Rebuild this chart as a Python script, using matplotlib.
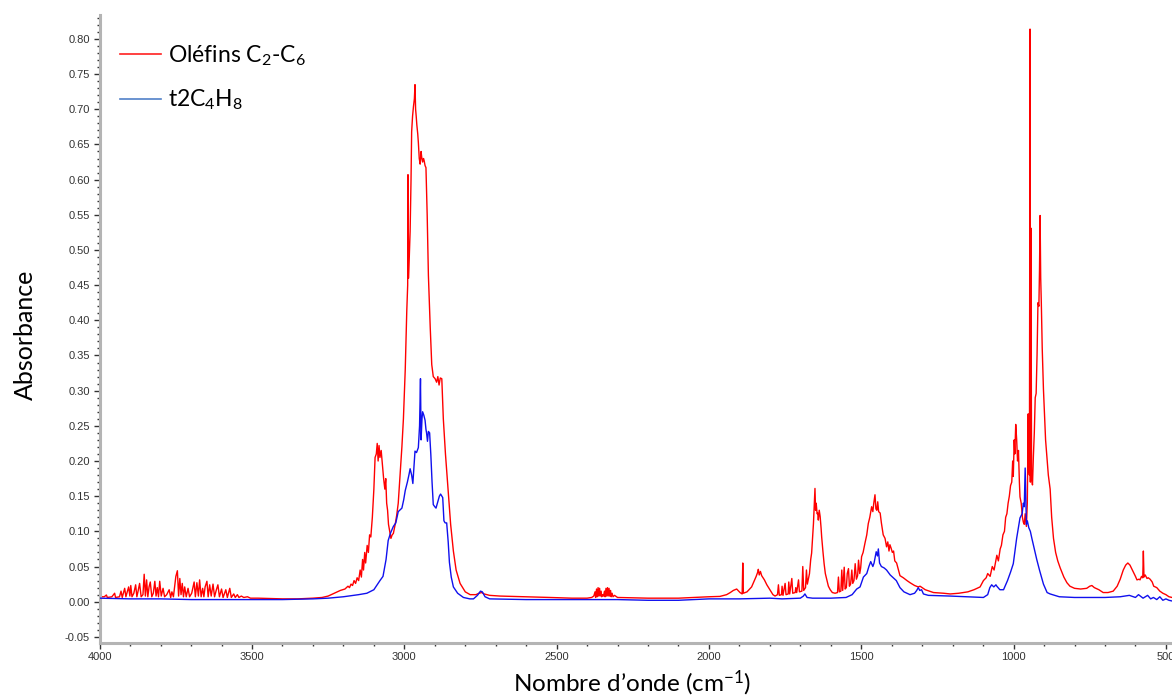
import matplotlib
matplotlib.use("Agg")
import matplotlib.pyplot as plt
from matplotlib.lines import Line2D
from matplotlib.ticker import MultipleLocator, FixedLocator
from matplotlib import font_manager

installed = {f.name for f in font_manager.fontManager.ttflist}
label_font = "Lato" if "Lato" in installed else "DejaVu Sans"
tick_font = "Liberation Sans Narrow" if "Liberation Sans Narrow" in installed else "Liberation Sans"

plt.rcParams["mathtext.fontset"] = "custom"
plt.rcParams["mathtext.rm"] = label_font
plt.rcParams["mathtext.it"] = label_font

# ---------------- data ----------------
series_names = [r"Oléfins C$_\mathregular{2}$-C$_\mathregular{6}$", r"t2C$_\mathregular{4}$H$_\mathregular{8}$"]

olefins_wn = [
    4000, 3985, 3978, 3975, 3960, 3951, 3948, 3935, 3930, 3926, 3918, 3914, 3905, 3901, 3898, 3894,
    3888, 3882, 3878, 3874, 3869, 3864, 3858, 3854, 3850, 3846, 3842, 3838, 3834, 3829, 3824, 3819,
    3815, 3811, 3807, 3803, 3798, 3792, 3787, 3780, 3772, 3767, 3763, 3758, 3750, 3745, 3741, 3737,
    3733, 3729, 3725, 3721, 3716, 3710, 3705, 3698, 3690, 3686, 3681, 3676, 3672, 3667, 3662, 3658,
    3654, 3648, 3644, 3639, 3634, 3628, 3623, 3617, 3612, 3607, 3600, 3595, 3586, 3581, 3573, 3568,
    3560, 3555, 3548, 3543, 3535, 3527, 3515, 3505, 3480, 3400, 3350, 3300, 3270, 3250, 3230, 3210,
    3195, 3185, 3180, 3175, 3170, 3165, 3160, 3155, 3150, 3145, 3141, 3137, 3134, 3130, 3127, 3122,
    3118, 3114, 3110, 3105, 3100, 3096, 3092, 3089, 3086, 3083, 3080, 3076, 3072, 3068, 3064, 3061,
    3058, 3055, 3052, 3048, 3044, 3040, 3036, 3030, 3025, 3020, 3014, 3008, 3003, 2997, 2992, 2989,
    2988, 2986, 2983, 2981, 2978, 2976, 2973, 2970, 2967, 2965, 2963, 2961, 2959, 2956, 2954, 2951,
    2948, 2945, 2943, 2940, 2937, 2935, 2932, 2929, 2925, 2921, 2915, 2910, 2905, 2899, 2894, 2890,
    2886, 2882, 2877, 2872, 2865, 2856, 2848, 2839, 2830, 2817, 2800, 2784, 2765, 2755, 2746, 2738,
    2720, 2686, 2600, 2522, 2450, 2400, 2385, 2378, 2374, 2372, 2369, 2367, 2364, 2362, 2359, 2357,
    2354, 2352, 2349, 2346, 2343, 2341, 2338, 2336, 2333, 2331, 2328, 2326, 2323, 2321, 2318, 2315,
    2310, 2300, 2200, 2100, 2050, 2000, 1964, 1942, 1930, 1920, 1909, 1898, 1891, 1889, 1887, 1875,
    1860, 1845, 1840, 1838, 1835, 1831, 1827, 1818, 1810, 1800, 1790, 1783, 1775, 1772, 1769, 1762,
    1760, 1757, 1750, 1747, 1740, 1738, 1735, 1728, 1725, 1717, 1715, 1712, 1706, 1703, 1695, 1692,
    1689, 1683, 1680, 1677, 1670, 1666, 1663, 1660, 1657, 1654, 1652, 1650, 1648, 1645, 1643, 1641,
    1638, 1635, 1632, 1630, 1626, 1622, 1618, 1613, 1608, 1602, 1595, 1586, 1578, 1575, 1572, 1567,
    1564, 1561, 1556, 1553, 1549, 1546, 1542, 1539, 1535, 1531, 1528, 1524, 1520, 1516, 1512, 1509,
    1505, 1502, 1499, 1494, 1488, 1482, 1477, 1472, 1466, 1462, 1459, 1455, 1452, 1449, 1446, 1443,
    1438, 1434, 1428, 1422, 1417, 1413, 1409, 1406, 1402, 1398, 1394, 1390, 1384, 1378, 1373, 1362,
    1350, 1340, 1325, 1313, 1307, 1300, 1290, 1263, 1230, 1208, 1180, 1150, 1130, 1110, 1099, 1090,
    1085, 1077, 1070, 1064, 1055, 1050, 1044, 1040, 1035, 1030, 1026, 1022, 1018, 1014, 1010, 1006,
    1003, 1001, 998, 996, 993, 990, 987, 984, 981, 979, 975, 971, 968, 965, 962, 958,
    955, 952, 951, 948, 946, 945, 943, 941, 938, 935, 932, 929, 926, 923, 920, 917,
    915, 913, 911, 909, 906, 902, 898, 895, 891, 886, 880, 875, 869, 862, 855, 847,
    835, 825, 815, 800, 780, 760, 750, 743, 735, 720, 706, 690, 673, 660, 650, 640,
    632, 625, 618, 610, 600, 595, 588, 585, 580, 576, 574, 572, 568, 562, 558, 552,
    545, 540, 530, 520, 510, 500, 490, 480,
]
olefins_abs = [
    0.007, 0.007, 0.0095, 0.006, 0.007, 0.012, 0.006, 0.007, 0.015, 0.006, 0.019, 0.007, 0.021, 0.008, 0.023, 0.007,
    0.012, 0.024, 0.007, 0.015, 0.026, 0.007, 0.010, 0.039, 0.008, 0.031, 0.007, 0.021, 0.028, 0.007, 0.012, 0.029,
    0.008, 0.020, 0.007, 0.029, 0.008, 0.019, 0.007, 0.010, 0.017, 0.006, 0.014, 0.007, 0.036, 0.044, 0.008, 0.033,
    0.010, 0.026, 0.007, 0.021, 0.007, 0.019, 0.007, 0.012, 0.028, 0.007, 0.027, 0.008, 0.031, 0.007, 0.019, 0.007,
    0.021, 0.029, 0.007, 0.024, 0.008, 0.025, 0.007, 0.017, 0.024, 0.007, 0.018, 0.006, 0.017, 0.006, 0.019, 0.006,
    0.011, 0.006, 0.010, 0.006, 0.008, 0.006, 0.007, 0.005, 0.005, 0.004, 0.004, 0.005, 0.006, 0.008, 0.012, 0.016,
    0.018, 0.022, 0.020, 0.025, 0.023, 0.030, 0.026, 0.034, 0.030, 0.045, 0.035, 0.060, 0.045, 0.070, 0.055, 0.080,
    0.070, 0.095, 0.092, 0.120, 0.160, 0.205, 0.210, 0.225, 0.200, 0.222, 0.205, 0.215, 0.195, 0.175, 0.160, 0.175,
    0.140, 0.130, 0.110, 0.100, 0.090, 0.095, 0.097, 0.110, 0.123, 0.140, 0.179, 0.220, 0.260, 0.330, 0.413, 0.450,
    0.607, 0.460, 0.500, 0.526, 0.600, 0.668, 0.690, 0.704, 0.715, 0.735, 0.700, 0.690, 0.678, 0.665, 0.653, 0.630,
    0.622, 0.640, 0.632, 0.625, 0.630, 0.627, 0.620, 0.617, 0.550, 0.464, 0.390, 0.337, 0.320, 0.317, 0.312, 0.320,
    0.308, 0.318, 0.317, 0.260, 0.210, 0.158, 0.110, 0.072, 0.045, 0.026, 0.014, 0.010, 0.010, 0.012, 0.013, 0.011,
    0.009, 0.008, 0.007, 0.006, 0.005, 0.005, 0.006, 0.008, 0.014, 0.006, 0.018, 0.007, 0.020, 0.008, 0.019, 0.008,
    0.015, 0.007, 0.010, 0.008, 0.015, 0.007, 0.019, 0.008, 0.020, 0.008, 0.019, 0.008, 0.016, 0.007, 0.012, 0.007,
    0.009, 0.006, 0.005, 0.005, 0.006, 0.007, 0.0075, 0.010, 0.013, 0.016, 0.018, 0.013, 0.011, 0.055, 0.012, 0.014,
    0.021, 0.036, 0.042, 0.046, 0.038, 0.043, 0.037, 0.031, 0.024, 0.017, 0.010, 0.008, 0.010, 0.024, 0.009, 0.010,
    0.022, 0.009, 0.026, 0.010, 0.011, 0.028, 0.011, 0.033, 0.012, 0.013, 0.020, 0.013, 0.031, 0.014, 0.015, 0.050,
    0.016, 0.020, 0.045, 0.025, 0.040, 0.060, 0.069, 0.090, 0.111, 0.140, 0.161, 0.130, 0.140, 0.125, 0.126, 0.116,
    0.130, 0.121, 0.105, 0.092, 0.072, 0.054, 0.040, 0.031, 0.022, 0.017, 0.013, 0.012, 0.013, 0.035, 0.014, 0.015,
    0.045, 0.016, 0.049, 0.018, 0.020, 0.040, 0.047, 0.022, 0.025, 0.045, 0.026, 0.030, 0.054, 0.032, 0.037, 0.059,
    0.040, 0.048, 0.064, 0.070, 0.083, 0.095, 0.111, 0.120, 0.135, 0.128, 0.140, 0.152, 0.132, 0.130, 0.142, 0.128,
    0.126, 0.112, 0.095, 0.090, 0.078, 0.085, 0.072, 0.081, 0.076, 0.070, 0.072, 0.058, 0.055, 0.045, 0.037, 0.034,
    0.030, 0.027, 0.023, 0.021, 0.022, 0.020, 0.017, 0.013, 0.012, 0.011, 0.012, 0.014, 0.017, 0.021, 0.030, 0.034,
    0.040, 0.036, 0.050, 0.045, 0.066, 0.058, 0.075, 0.080, 0.095, 0.100, 0.120, 0.125, 0.140, 0.150, 0.165, 0.170,
    0.200, 0.178, 0.230, 0.210, 0.252, 0.231, 0.200, 0.215, 0.170, 0.149, 0.140, 0.120, 0.113, 0.110, 0.125, 0.107,
    0.140, 0.267, 0.200, 0.180, 0.814, 0.170, 0.531, 0.175, 0.166, 0.207, 0.240, 0.290, 0.296, 0.350, 0.425, 0.420,
    0.470, 0.549, 0.460, 0.425, 0.360, 0.302, 0.260, 0.230, 0.207, 0.180, 0.160, 0.120, 0.090, 0.070, 0.058, 0.048,
    0.035, 0.027, 0.022, 0.019, 0.018, 0.019, 0.022, 0.023, 0.020, 0.017, 0.013, 0.013, 0.015, 0.022, 0.032, 0.045,
    0.052, 0.055, 0.052, 0.045, 0.036, 0.031, 0.032, 0.031, 0.036, 0.034, 0.072, 0.035, 0.038, 0.033, 0.034, 0.032,
    0.028, 0.022, 0.020, 0.015, 0.012, 0.010, 0.007, 0.006,
]

butene_wn = [
    4000, 3900, 3800, 3700, 3600, 3500, 3400, 3300, 3250, 3200, 3150, 3123, 3100, 3080, 3070, 3060,
    3053, 3045, 3036, 3028, 3020, 3013, 3008, 3002, 2997, 2990, 2985, 2981, 2976, 2972, 2968, 2965,
    2960, 2954, 2950, 2947, 2945, 2942, 2940, 2936, 2932, 2929, 2927, 2924, 2921, 2917, 2913, 2909,
    2905, 2900, 2896, 2890, 2885, 2881, 2877, 2874, 2870, 2866, 2861, 2856, 2852, 2846, 2839, 2825,
    2806, 2785, 2773, 2760, 2750, 2744, 2735, 2720, 2600, 2500, 2400, 2300, 2200, 2100, 2000, 1900,
    1800, 1760, 1700, 1690, 1685, 1678, 1660, 1600, 1550, 1530, 1515, 1504, 1493, 1482, 1475, 1469,
    1462, 1458, 1451, 1447, 1444, 1440, 1434, 1425, 1417, 1405, 1395, 1385, 1373, 1360, 1340, 1325,
    1318, 1313, 1308, 1302, 1296, 1280, 1208, 1150, 1099, 1085, 1078, 1072, 1065, 1058, 1055, 1045,
    1033, 1020, 1010, 1001, 990, 979, 972, 968, 965, 962, 960, 958, 955, 950, 945, 940,
    932, 924, 915, 902, 890, 880, 850, 800, 700, 650, 620, 600, 590, 575, 560, 550,
    541, 530, 520, 510, 500, 490, 480,
]
butene_abs = [
    0.005, 0.004, 0.004, 0.003, 0.003, 0.003, 0.003, 0.004, 0.005, 0.007, 0.010, 0.012, 0.017, 0.030, 0.036, 0.060,
    0.087, 0.098, 0.107, 0.112, 0.128, 0.131, 0.133, 0.145, 0.158, 0.170, 0.180, 0.189, 0.180, 0.168, 0.195, 0.214,
    0.212, 0.219, 0.250, 0.317, 0.230, 0.260, 0.270, 0.265, 0.258, 0.245, 0.240, 0.228, 0.242, 0.240, 0.209, 0.170,
    0.138, 0.135, 0.133, 0.142, 0.150, 0.153, 0.150, 0.148, 0.115, 0.112, 0.112, 0.085, 0.056, 0.035, 0.021, 0.012,
    0.006, 0.004, 0.004, 0.009, 0.015, 0.014, 0.007, 0.004, 0.003, 0.003, 0.003, 0.003, 0.002, 0.002, 0.004, 0.004,
    0.005, 0.004, 0.005, 0.008, 0.011, 0.006, 0.005, 0.005, 0.006, 0.010, 0.018, 0.021, 0.035, 0.040, 0.050, 0.057,
    0.050, 0.055, 0.071, 0.065, 0.075, 0.055, 0.050, 0.048, 0.045, 0.038, 0.034, 0.030, 0.020, 0.014, 0.010, 0.012,
    0.016, 0.020, 0.016, 0.017, 0.011, 0.009, 0.008, 0.007, 0.006, 0.010, 0.020, 0.024, 0.021, 0.024, 0.022, 0.017,
    0.017, 0.030, 0.042, 0.054, 0.090, 0.119, 0.125, 0.140, 0.135, 0.190, 0.150, 0.110, 0.115, 0.105, 0.100, 0.090,
    0.075, 0.060, 0.045, 0.025, 0.013, 0.011, 0.007, 0.006, 0.006, 0.007, 0.009, 0.006, 0.010, 0.005, 0.009, 0.004,
    0.006, 0.003, 0.007, 0.002, 0.004, 0.002, 0.001,
]

x_ticks = [4000, 3500, 3000, 2500, 2000, 1500, 1000, 500]
y_ticks = [-0.05, 0.00, 0.05, 0.10, 0.15, 0.20, 0.25, 0.30, 0.35, 0.40, 0.45, 0.50, 0.55, 0.60, 0.65, 0.70, 0.75, 0.80]

# ---------------- figure ----------------
W, H = 1172, 698
fig = plt.figure(figsize=(W / 100, H / 100), dpi=100)
ax_left, ax_bottom_px, ax_top_px = 99.7, 642.7, 15
ax = fig.add_axes([ax_left / W, 1 - ax_bottom_px / H, 1 - ax_left / W, (ax_bottom_px - ax_top_px) / H])

ax.plot(olefins_wn, olefins_abs, color="#ff0000", lw=1.0, zorder=2)
ax.plot(butene_wn, butene_abs, color="#1010ee", lw=1.0, zorder=3)

ax.set_xlim(4000, 480)
ax.set_ylim(-0.0583, 0.834)

ax.xaxis.set_major_locator(FixedLocator(x_ticks))
ax.xaxis.set_minor_locator(MultipleLocator(100))
ax.yaxis.set_major_locator(FixedLocator(y_ticks))
ax.yaxis.set_minor_locator(MultipleLocator(0.01))
ax.set_yticklabels([f"{v:.2f}" for v in y_ticks])
ax.set_xticklabels([str(v) for v in x_ticks])

for s in ["top", "right"]:
    ax.spines[s].set_visible(False)
for s in ["left", "bottom"]:
    ax.spines[s].set_color("#b4b4b4")
    ax.spines[s].set_linewidth(2.2)

ax.tick_params(which="major", direction="out", length=4, width=1.0, color="#333333",
               labelsize=8, labelcolor="#333333", pad=3)
ax.tick_params(which="minor", direction="out", length=2, width=1.0, color="#333333")
for lab in ax.get_xticklabels() + ax.get_yticklabels():
    lab.set_fontfamily(tick_font)

fig.text(25 / W, 1 - 335 / H, "Absorbance", rotation=90, ha="center", va="center",
         fontsize=18, family=label_font, color="#000000")
fig.text(632 / W, 1 - 683 / H, r"Nombre d’onde (cm$^{\mathregular{-1}}$)", ha="center", va="center",
         fontsize=17.5, family=label_font, color="#000000")

ax_w_px = W - ax_left
ax_h_px = ax_bottom_px - ax_top_px
handles = [Line2D([], [], color="#ff2020", lw=1.2), Line2D([], [], color="#5080c8", lw=1.2)]
leg = ax.legend(handles, series_names, loc="upper left",
                bbox_to_anchor=((120 - ax_left) / ax_w_px, (ax_bottom_px - 43) / ax_h_px),
                frameon=False, prop={"family": label_font, "size": 16.5}, handlelength=1.8,
                handletextpad=0.28, labelspacing=0.88, borderaxespad=0.0, borderpad=0.0)

fig.savefig("out.png", dpi=100)
